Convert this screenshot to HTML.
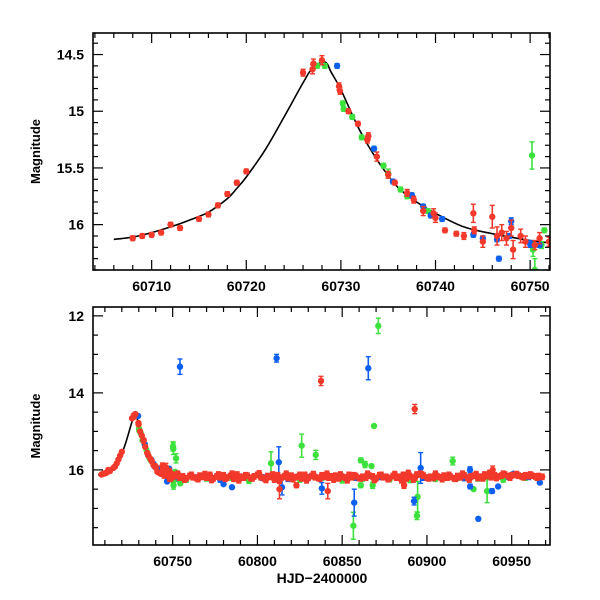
<!DOCTYPE html>
<html><head><meta charset="utf-8"><style>
html,body{margin:0;padding:0;background:#fff}
svg{display:block}
text{font-family:"Liberation Sans",sans-serif;font-weight:bold;fill:#000}
</style></head><body>
<svg id="chart" width="600" height="600" xmlns="http://www.w3.org/2000/svg"></svg>
<script>
// ---- data ----
const modelT=[60706,60708,60710,60712,60714,60716,60718,60719,60720,60722,60724,60726,60727,60728.3,60729,60730,60732,60734,60736,60738,60740,60743,60746,60750,60752];
const modelM=[16.13,16.11,16.07,16.02,15.96,15.89,15.77,15.68,15.58,15.34,15.05,14.75,14.62,14.565,14.66,14.81,15.17,15.45,15.67,15.8,15.9,16.02,16.08,16.14,16.16];
const redT=[60708,60709,60710,60711,60712,60713,60715,60716,60717,60718,60719,60720,60726,60727,60727.1,60728,60729.8,60729.9,60730.8,60731.8,60732.8,60732.9,60733.8,60735,60735.7,60737,60737.7,60738.7,60739.8,60740,60741,60742.2,60743,60744,60744.1,60745,60746,60746.5,60747,60747.5,60748,60748.2,60749,60749.5,60750.5,60751,60752];
const redM=[16.12,16.1,16.09,16.07,16.0,16.03,15.95,15.91,15.83,15.73,15.63,15.53,14.66,14.63,14.58,14.55,14.78,14.82,15.0,15.11,15.25,15.22,15.4,15.56,15.63,15.72,15.78,15.88,15.9,15.94,16.05,16.08,16.1,15.9,16.05,16.15,15.93,16.1,16.07,16.12,16.03,16.22,16.1,16.15,16.18,16.12,16.15];
const redE=[0.02,0.02,0.02,0.02,0.02,0.02,0.02,0.02,0.02,0.02,0.02,0.02,0.03,0.04,0.04,0.04,0.03,0.03,0.02,0.02,0.03,0.03,0.04,0.03,0.02,0.03,0.03,0.04,0.04,0.04,0.02,0.02,0.03,0.08,0.03,0.05,0.1,0.08,0.07,0.06,0.07,0.08,0.06,0.05,0.04,0.05,0.04];
const greenT=[60727.5,60728.3,60730.2,60730.3,60731.2,60732.2,60733.5,60734.5,60735,60736.3,60737,60739.2,60750.2,60750.3,60750.5,60751.2,60751.5];
const greenM=[14.6,14.6,14.93,14.98,15.05,15.23,15.33,15.48,15.55,15.69,15.75,15.88,15.39,16.22,16.4,16.18,16.05];
const greenE=[0.02,0.02,0.02,0.02,0.02,0.02,0.02,0.02,0.04,0.02,0.02,0.02,0.12,0.06,0.1,0.03,0.02];
const blueT=[60729.6,60733.5,60735.5,60737.5,60738.7,60739.5,60740.7,60744,60745,60746.5,60746.7,60747.8,60748,60750,60751];
const blueM=[14.6,15.33,15.62,15.74,15.84,15.92,15.95,16.09,16.12,16.13,16.3,16.1,15.97,16.17,16.18];
const blueE=[0.02,0.02,0.02,0.02,0.02,0.02,0.02,0.02,0.02,0.02,0.02,0.02,0.03,0.03,0.02];
// long-term band (bottom panel)
const bandRedT=[60744,60746,60748,60750,60752,60754,60756,60758,60760,60762,60764,60766,60768,60770,60772,60774,60776,60778,60780,60782,60784,60786,60788,60790,60792,60794,60796,60798,60800,60802,60804,60806,60808,60810,60812,60814,60816,60818,60820,60822,60824,60826,60828,60830,60832,60834,60836,60838,60840,60842,60844,60846,60848,60850,60852,60854,60856,60858,60860,60862,60864,60866,60868,60870,60872,60874,60876,60878,60880,60882,60884,60886,60888,60890,60892,60894,60896,60898,60900,60902,60904,60906,60908,60910,60912,60914,60916,60918,60920,60922,60924,60926,60928,60930,60932,60934,60936,60938,60940,60942,60944,60946,60948,60950,60952,60954,60956,60958,60960,60962,60964,60966,60968];
const bandRedM=[16.08,16.12,16.15,16.18,16.14,16.2,16.17,16.22,16.16,16.19,16.21,16.15,16.18,16.2,16.13,16.22,16.17,16.19,16.14,16.2,16.16,16.23,16.12,16.18,16.2,16.15,16.21,16.17,16.13,16.19,16.22,16.16,16.18,16.25,16.14,16.2,16.17,16.21,16.15,16.19,16.18,16.22,16.13,16.2,16.16,16.19,16.21,16.14,16.18,16.2,16.17,16.15,16.22,16.18,16.2,16.13,16.19,16.16,16.21,16.18,16.2,16.15,16.17,16.22,16.14,16.19,16.18,16.21,16.16,16.2,16.18,16.13,16.22,16.17,16.25,16.12,16.1,16.15,16.2,16.18,16.21,16.17,16.19,16.15,16.2,16.18,16.22,16.16,16.19,16.14,16.2,16.17,16.15,16.21,16.18,16.12,16.16,16.19,16.14,16.17,16.15,16.12,16.16,16.14,16.13,16.15,16.17,16.14,16.16,16.15,16.17,16.16,16.18];
const bandRed2T=[60745,60749,60753,60757,60761,60765,60769,60773,60777,60781,60785,60789,60793,60797,60801,60805,60809,60813,60817,60821,60825,60829,60833,60837,60841,60845,60849,60853,60857,60861,60865,60869,60873,60877,60881,60885,60889,60893,60897,60901,60905,60909,60913,60917,60921,60925,60929,60933,60937,60941,60945,60949,60953,60957,60961,60965];
const bandRed2M=[16.14,16.22,16.1,16.25,16.13,16.24,16.11,16.26,16.12,16.23,16.1,16.27,16.14,16.22,16.09,16.26,16.12,16.28,16.1,16.24,16.13,16.27,16.11,16.23,16.1,16.25,16.12,16.27,16.14,16.22,16.1,16.26,16.13,16.24,16.11,16.27,16.08,16.2,16.12,16.22,16.1,16.24,16.13,16.23,16.1,16.25,16.11,16.22,16.08,16.21,16.1,16.2,16.11,16.19,16.12,16.2];
const bandBlueT=[60752,60765,60778,60790,60803,60818,60830,60845,60858,60872,60885,60898,60910,60922,60935,60948,60960];
const bandBlueM=[16.22,16.2,16.25,16.18,16.2,16.23,16.19,16.21,16.2,16.18,16.22,16.2,16.19,16.21,16.18,16.17,16.18];
const bandGreenT=[60758,60770,60785,60795,60812,60825,60838,60850,60862,60878,60890,60905,60918,60930,60945,60958];
const bandGreenM=[16.25,16.22,16.2,16.28,16.22,16.25,16.2,16.27,16.22,16.24,16.26,16.23,16.2,16.22,16.25,16.2];
const outBlueT=[60754.3,60811.3,60865.4,60812.6,60896.3,60925.4,60951,60857.1,60892.4,60930.3,60938.4,60942,60925.5,60814.5,60838,60785,60747,60780,60966.6];
const outBlueM=[13.32,13.1,13.36,15.8,15.95,16.0,16.1,16.85,16.81,17.27,16.55,16.43,16.43,16.45,16.48,16.45,16.27,16.37,16.33];
const outBlueE=[0.2,0.1,0.3,0.4,0.4,0.08,0.03,0.35,0.1,0.05,0.06,0.03,0.06,0.2,0.15,0.05,0.03,0.04,0.03];
const outRedT=[60837.5,60892.8,60938.8,60813,60841.5,60823,60886.5];
const outRedM=[13.69,14.42,16.0,16.5,16.55,16.4,16.4];
const outRedE=[0.12,0.12,0.1,0.25,0.2,0.06,0.08];
const outGreenT=[60871.3,60868.8,60826.1,60834.4,60750.4,60752,60808,60861,60863.5,60867.3,60915.2,60856.6,60894.5,60894.1,60935.5,60927.5,60754.5,60750.5,60861,60868];
const outGreenM=[12.26,14.86,15.37,15.61,15.45,15.7,15.83,15.75,15.86,15.9,15.77,17.45,16.7,17.19,16.55,16.5,16.35,16.3,16.4,16.4];
const outGreenE=[0.2,0.02,0.3,0.12,0.15,0.12,0.3,0.06,0.08,0.03,0.1,0.35,0.4,0.1,0.3,0.05,0.05,0.1,0.06,0.08];

const NS='http://www.w3.org/2000/svg';
const svg=document.getElementById('chart');
const RED='#f2392b',GREEN='#3ce13c',BLUE='#0d5fee';
function mk(tag,attrs,parent){const e=document.createElementNS(NS,tag);for(const k in attrs)e.setAttribute(k,attrs[k]);(parent||svg).appendChild(e);return e;}

const panels=[
 {name:'top',L:93,R:550,T:33,B:270,x0:60703.8,x1:60752.1,y0:14.31,y1:16.40,xMaj:10,xMin:2,yMaj:0.5,yMin:0.1,yLabels:[14.5,15,15.5,16],xLabels:[60710,60720,60730,60740,60750],r:3.2,be:0.03},
 {name:'bottom',L:93,R:550,T:307,B:545,x0:60703,x1:60972.6,y0:11.77,y1:17.95,xMaj:50,xMin:10,yMaj:2,yMin:0.5,yLabels:[12,14,16],xLabels:[60750,60800,60850,60900,60950],r:3.2,be:0.07}
];

panels.forEach((p,pi)=>{
 const sx=v=>p.L+(v-p.x0)/(p.x1-p.x0)*(p.R-p.L);
 const sy=v=>p.T+(v-p.y0)/(p.y1-p.y0)*(p.B-p.T);
 const g=mk('g',{});
 
 
 const cid='clip'+pi;
 const cp=mk('clipPath',{id:cid},g);mk('rect',{x:p.L,y:p.T,width:p.R-p.L,height:p.B-p.T},cp);
 const plot=mk('g',{'clip-path':'url(#'+cid+')'},g);
 // model line, smooth Catmull-Rom
 const P=modelT.map((t,i)=>[sx(t),sy(modelM[i])]);
 let d='M'+P[0][0].toFixed(1)+' '+P[0][1].toFixed(1);
 for(let i=0;i<P.length-1;i++){
  const p0=P[Math.max(0,i-1)],p1=P[i],p2=P[i+1],p3=P[Math.min(P.length-1,i+2)];
  const c1=[p1[0]+(p2[0]-p0[0])/6,p1[1]+(p2[1]-p0[1])/6];
  const c2=[p2[0]-(p3[0]-p1[0])/6,p2[1]-(p3[1]-p1[1])/6];
  d+='C'+c1[0].toFixed(1)+' '+c1[1].toFixed(1)+' '+c2[0].toFixed(1)+' '+c2[1].toFixed(1)+' '+p2[0].toFixed(1)+' '+p2[1].toFixed(1);
 }
 const ml=mk('path',{d:d,fill:'none',stroke:'#000','stroke-width':1.6},plot);
 
 
 function series(T,M,E,color,nm){
  const sg=mk('g',{},plot);
  
  
  T.forEach((t,i)=>{
   const x=sx(t),y=sy(M[i]);const e=E?E[i]:p.be;
   const ey=Math.abs(sy(M[i]+e)-y);
   if(ey>2){
    mk('line',{x1:x,x2:x,y1:y-ey,y2:y+ey,stroke:color,'stroke-width':1.6},sg);
    mk('line',{x1:x-2.5,x2:x+2.5,y1:y-ey,y2:y-ey,stroke:color,'stroke-width':1.4},sg);
    mk('line',{x1:x-2.5,x2:x+2.5,y1:y+ey,y2:y+ey,stroke:color,'stroke-width':1.4},sg);
   }
   const c=mk('circle',{cx:x,cy:y,r:p.r,fill:color},sg);
   
   
  });
 }
 if(pi===1){
  series(bandGreenT,bandGreenM,null,GREEN,'green-band');
  series(bandBlueT,bandBlueM,null,BLUE,'blue-band');
  series(outGreenT,outGreenM,outGreenE,GREEN,'green-outliers');
  series(outBlueT,outBlueM,outBlueE,BLUE,'blue-outliers');
 }
 series(greenT,greenM,greenE,GREEN,'green-series');
 series(blueT,blueM,blueE,BLUE,'blue-series');
 series(redT,redM,redE,RED,'red-series');
 if(pi===1){
  series(bandRed2T,bandRed2M,null,RED,'red-band-2');
  series(bandRedT,bandRedM,null,RED,'red-band');
  series(outRedT,outRedM,outRedE,RED,'red-outliers');
 }
 const fr=mk('rect',{x:p.L,y:p.T,width:p.R-p.L,height:p.B-p.T,fill:'none',stroke:'#000','stroke-width':1.6},g);
 
 
 const tg=mk('g',{stroke:'#000','stroke-width':1.2},g);
 
 
 for(let v=Math.ceil(p.x0/p.xMin)*p.xMin;v<=p.x1;v+=p.xMin){
  const maj=Math.abs(v/p.xMaj-Math.round(v/p.xMaj))<1e-6;const len=maj?10:5;const x=sx(v);
  mk('line',{x1:x,x2:x,y1:p.B,y2:p.B-len},tg);mk('line',{x1:x,x2:x,y1:p.T,y2:p.T+len},tg);
 }
 for(let v=Math.ceil(p.y0/p.yMin-1e-6)*p.yMin;v<=p.y1+1e-9;v+=p.yMin){
  const maj=Math.abs(v/p.yMaj-Math.round(v/p.yMaj))<1e-6;const len=maj?10:5;const y=sy(v);
  mk('line',{x1:p.L,x2:p.L+len,y1:y,y2:y},tg);mk('line',{x1:p.R,x2:p.R-len,y1:y,y2:y},tg);
 }
 p.xLabels.forEach(v=>{const t=mk('text',{x:sx(v),y:p.B+21,'text-anchor':'middle','font-size':14},g);t.textContent=v;
  
  });
 p.yLabels.forEach(v=>{const t=mk('text',{x:p.L-9,y:sy(v)+5,'text-anchor':'end','font-size':14},g);t.textContent=String(v);
  
  });
 const yt=mk('text',{x:0,y:0,'text-anchor':'middle','font-size':13,transform:'translate(40,'+((p.T+p.B)/2)+') rotate(-90)'},g);
 yt.textContent='Magnitude';
 
 
});
const xt=mk('text',{x:322,y:583,'text-anchor':'middle','font-size':14,'font-family':'Liberation Mono, monospace'});
xt.textContent='HJD\u22122400000';


</script>
</body></html>
